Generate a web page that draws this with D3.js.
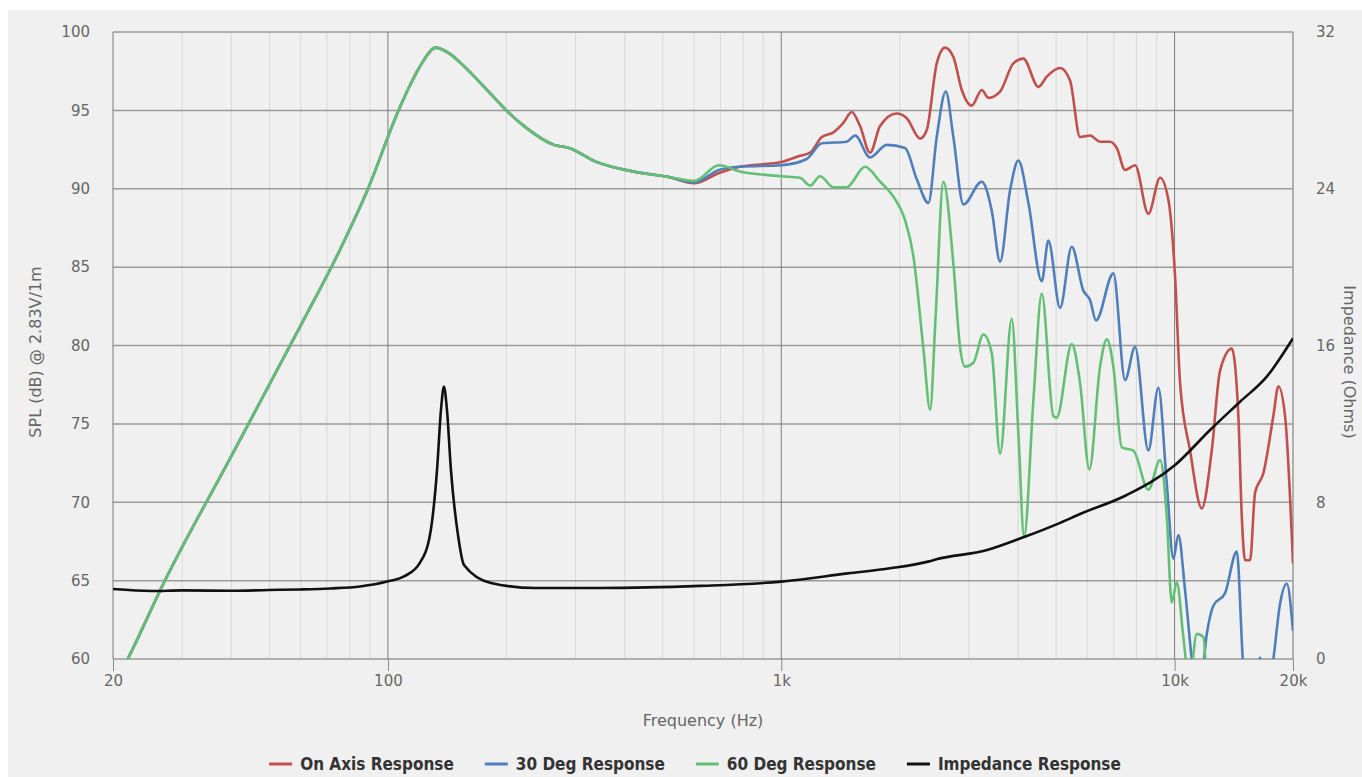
<!DOCTYPE html>
<html>
<head>
<meta charset="utf-8">
<script src="https://cdn.jsdelivr.net/npm/d3@7"></script>
<style>
  body { margin: 0; background: #ffffff; }
  text { font-family: "DejaVu Sans", "Open Sans", sans-serif; }
  .legend-label { font-family: "DejaVu Sans Condensed", "DejaVu Sans", sans-serif; font-stretch: condensed; }
</style>
</head>
<body>
<div id="chart"></div>
<script>
//**Speaker frequency + impedance response */

// low end shared by all three SPL curves (Hz / dB)
var baseFreq = [20, 21.8, 27.1, 39.7, 59.8, 75.5, 89, 106, 113.8, 120.6, 132.5, 143.8, 153.4, 181.8, 200, 224.4, 264.4, 288.6, 340, 420, 518];
var baseSpl = [58.2, 60, 65, 72.8, 81.2, 86.1, 90, 94.9, 96.6, 97.8, 99.0, 98.6, 98.0, 96.1, 95.0, 93.9, 92.8, 92.6, 91.7, 91.1, 90.75];

// on axis
var onAxisFreq = [600, 694.6, 785, 1000, 1116, 1184, 1268, 1357, 1438, 1511, 1586, 1682, 1783, 1966, 2085, 2254, 2344, 2485, 2609, 2739, 2877, 3050, 3234, 3362, 3600, 3891, 4126, 4505, 4732, 5115, 5422, 5750, 6096, 6464, 6854, 7128, 7483, 7934, 8577, 9185, 9642, 10028, 10326, 10948, 11725, 12430, 13050, 13975, 14526, 14818, 15107, 15555, 16016, 16814, 17829, 18357, 19092, 20000];
var onAxisSpl = [90.35, 91.0, 91.4, 91.7, 92.1, 92.3, 93.3, 93.6, 94.2, 94.9, 94.0, 92.3, 94.0, 94.8, 94.5, 93.2, 93.75, 98.0, 99.0, 98.4, 96.3, 95.3, 96.3, 95.8, 96.2, 98.0, 98.3, 96.5, 97.15, 97.7, 96.9, 93.3, 93.4, 93.0, 93.0, 92.6, 91.2, 91.5, 88.4, 90.7, 89.3, 84.4, 77.6, 73.3, 69.6, 73.3, 78.4, 79.8, 75.5, 69.1, 66.3, 66.3, 70.6, 71.85, 75.5, 77.4, 75.5, 66.1];

// 30 deg
var deg30Freq = [600, 694.6, 785, 1000, 1161, 1268, 1467, 1540, 1682, 1854, 2064, 2211, 2366, 2485, 2620, 2739, 2904, 3234, 3429, 3600, 3817, 4007, 4249, 4595, 4776, 5115, 5477, 5862, 6096, 6314, 6988, 7483, 7934, 8577, 9094, 9552, 9930, 10223, 10632, 11057, 11500, 12074, 12547, 13437, 14390, 14905, 15555, 16000, 16490, 17000, 17829, 18535, 19283, 20000];
var deg30Spl = [90.4, 91.2, 91.4, 91.5, 91.9, 92.9, 93.0, 93.4, 92.0, 92.8, 92.6, 90.6, 89.1, 93.3, 96.2, 93.3, 89.0, 90.45, 88.6, 85.35, 89.9, 91.8, 89.1, 84.1, 86.7, 82.4, 86.3, 83.5, 82.9, 81.6, 84.6, 77.8, 79.9, 73.3, 77.3, 71.2, 66.4, 67.9, 64.4, 60.0, 57, 61.6, 63.4, 64.2, 66.85, 60, 55, 57, 60.1, 57, 60, 63.5, 64.8, 61.8];

// 60 deg
var deg60Freq = [600, 694.6, 785, 1000, 1116, 1184, 1255, 1357, 1467, 1633, 1783, 1928, 2064, 2167, 2298, 2390, 2470, 2583, 2739, 2848, 2933, 3079, 3265, 3429, 3600, 3855, 4007, 4143, 4375, 4595, 4918, 5017, 5477, 5750, 6071, 6464, 6723, 6988, 7340, 7856, 8577, 9185, 9552, 9837, 10127, 10527, 10900, 11386, 11835, 12200, 12700];
var deg60Spl = [90.5, 91.5, 91.1, 90.8, 90.7, 90.2, 90.8, 90.1, 90.1, 91.4, 90.45, 89.5, 88.0, 85.7, 79.8, 75.9, 82, 90.45, 85.2, 79.9, 78.65, 78.9, 80.7, 79.5, 73.1, 81.7, 74.4, 67.8, 76.5, 83.3, 75.5, 75.4, 80.1, 77.6, 72.1, 78.65, 80.4, 78.65, 73.5, 73.3, 70.8, 72.7, 69.1, 63.6, 64.9, 61.4, 58.5, 61.6, 61.4, 56, 50];

// impedance (ohms)
var impFreq = [20, 25.1, 30, 40, 49.6, 60, 71.3, 85, 99.5, 110.5, 120.3, 127.9, 133.3, 136.4, 138.8, 141.3, 144.6, 150.7, 156.1, 182.8, 237.5, 346, 621.5, 1000, 1476, 1891, 2362, 2481, 3336, 4126, 5115, 5750, 7557, 10028, 12308, 14671, 17153, 20000];
var impOhm = [3.57, 3.47, 3.5, 3.48, 3.52, 3.55, 3.6, 3.7, 3.95, 4.24, 4.88, 6.33, 9.65, 12.7, 13.9, 12.7, 9.65, 6.33, 4.8, 3.88, 3.62, 3.62, 3.73, 3.95, 4.37, 4.63, 4.97, 5.09, 5.56, 6.21, 6.95, 7.4, 8.37, 9.9, 11.69, 13.13, 14.41, 16.37];

// tick labels
var freqTicks = [20, 100, 1000, 10000, 20000];
var freqLabels = ["20", "100", "1k", "10k", "20k"];
var splTicks = [60, 65, 70, 75, 80, 85, 90, 95, 100];
var ohmTicks = [0, 8, 16, 24, 32];

var seriesNames = ["On Axis Response", "30 Deg Response", "60 Deg Response", "Impedance Response"];
var seriesColors = ["#c0504d", "#4f7fbb", "#62c074", "#111111"];

var svgWidth = 1362;
var svgHeight = 777;

var margin = {
    top: 32,
    bottom: 118,
    right: 69,
    left: 113,
};

var width = svgWidth - margin.left - margin.right;
var height = svgHeight - margin.top - margin.bottom;

var svg = d3
    .select("#chart")
    .append("svg")
    .attr("width", svgWidth)
    .attr("height", svgHeight);

// grey panel
svg.append("rect")
    .attr("x", 8)
    .attr("y", 10)
    .attr("width", svgWidth - 8)
    .attr("height", svgHeight - 10)
    .attr("fill", "#f0f0f0");

var chartGroup = svg
    .append("g")
    .attr("transform", `translate(${margin.left}, ${margin.top})`);

//create scale functions
var xScale = d3.scaleLog().domain([20, 20000]).range([0, width]);
var yScale = d3.scaleLinear().domain([60, 100]).range([height, 0]);
var zScale = d3.scaleLinear().domain([0, 32]).range([height, 0]);

// minor vertical grid
var minorTicks = xScale.ticks().filter((d) => freqTicks.indexOf(d) < 0);
chartGroup.append("g")
    .selectAll("line")
    .data(minorTicks)
    .join("line")
    .attr("x1", (d) => xScale(d))
    .attr("x2", (d) => xScale(d))
    .attr("y1", 0)
    .attr("y2", height)
    .attr("stroke", "#dcdcdc")
    .attr("stroke-width", 1.2);

// horizontal grid
chartGroup.append("g")
    .selectAll("line")
    .data(splTicks)
    .join("line")
    .attr("x1", 0)
    .attr("x2", width)
    .attr("y1", (d) => yScale(d))
    .attr("y2", (d) => yScale(d))
    .attr("stroke", "#9a9a9a")
    .attr("stroke-width", 1.5);

// major vertical grid
chartGroup.append("g")
    .selectAll("line")
    .data(freqTicks)
    .join("line")
    .attr("x1", (d) => xScale(d))
    .attr("x2", (d) => xScale(d))
    .attr("y1", 0)
    .attr("y2", height)
    .attr("stroke", (d) => (d == 20000 ? "#9a9a9a" : "#7c7c7c"))
    .attr("stroke-width", (d) => (d == 20000 ? 1.5 : 1));

//create axis functions
var xAxis = d3.axisBottom(xScale)
    .tickValues(freqTicks)
    .tickFormat((d, i) => freqLabels[i])
    .tickSize(12)
    .tickPadding(4);
var yAxis = d3.axisLeft(yScale).tickValues(splTicks).tickSize(0).tickPadding(23);
var zAxis = d3.axisRight(zScale).tickValues(ohmTicks).tickSize(0).tickPadding(23);

var xAxisG = chartGroup.append("g")
    .attr("transform", `translate(0, ${height})`)
    .call(xAxis);
var yAxisG = chartGroup.append("g").call(yAxis);
var zAxisG = chartGroup.append("g")
    .attr("transform", `translate(${width}, 0)`)
    .call(zAxis);

[xAxisG, yAxisG, zAxisG].forEach(function(g) {
    g.select(".domain").remove();
    g.selectAll(".tick line").attr("stroke", "#8a8a8a");
    g.selectAll(".tick text")
        .attr("fill", "#666")
        .style("font-family", "\"DejaVu Sans\", sans-serif")
        .style("font-size", "15px");
});

// clip for the curves
svg.append("defs")
    .append("clipPath")
    .attr("id", "plot-clip")
    .append("rect")
    .attr("width", width)
    .attr("height", height);

var splLine = d3.line()
    .x((d) => xScale(d[0]))
    .y((d) => yScale(d[1]))
    .curve(d3.curveMonotoneX);
var ohmLine = d3.line()
    .x((d) => xScale(d[0]))
    .y((d) => zScale(d[1]))
    .curve(d3.curveMonotoneX);

var curves = [
    d3.zip(baseFreq.concat(onAxisFreq), baseSpl.concat(onAxisSpl)),
    d3.zip(baseFreq.concat(deg30Freq), baseSpl.concat(deg30Spl)),
    d3.zip(baseFreq.concat(deg60Freq), baseSpl.concat(deg60Spl)),
];

var linesGroup = chartGroup.append("g").attr("clip-path", "url(#plot-clip)");

linesGroup.selectAll("path.spl")
    .data(curves)
    .join("path")
    .classed("spl", true)
    .attr("d", (d) => splLine(d))
    .attr("fill", "none")
    .attr("stroke", (d, i) => seriesColors[i])
    .attr("stroke-width", 2.6)
    .attr("stroke-linejoin", "round");

linesGroup.append("path")
    .attr("d", ohmLine(d3.zip(impFreq, impOhm)))
    .attr("fill", "none")
    .attr("stroke", seriesColors[3])
    .attr("stroke-width", 2.6)
    .attr("stroke-linejoin", "round");

//create axes labels
svg.append("text")
    .attr("x", margin.left + width / 2)
    .attr("y", 720)
    .attr("dy", "0.35em")
    .attr("text-anchor", "middle")
    .attr("fill", "#666")
    .style("font-size", "16px")
    .text("Frequency (Hz)");

svg.append("text")
    .attr("transform", "translate(35, 352) rotate(-90)")
    .attr("dy", "0.35em")
    .attr("text-anchor", "middle")
    .attr("fill", "#666")
    .style("font-size", "16px")
    .text("SPL (dB) @ 2.83V/1m");

svg.append("text")
    .attr("transform", "translate(1350, 362) rotate(90)")
    .attr("dy", "0.35em")
    .attr("text-anchor", "middle")
    .attr("fill", "#666")
    .style("font-size", "16px")
    .text("Impedance (Ohms)");

// legend
var legend = svg.append("g");
var items = legend.selectAll("g")
    .data(seriesNames)
    .join("g");
items.append("line")
    .attr("x1", 0)
    .attr("x2", 23)
    .attr("y1", 0)
    .attr("y2", 0)
    .attr("stroke", (d, i) => seriesColors[i])
    .attr("stroke-width", 3);
items.append("text")
    .classed("legend-label", true)
    .attr("x", 31)
    .attr("dy", "0.36em")
    .attr("fill", "#333")
    .style("font-size", "17px")
    .style("font-weight", "bold")
    .text((d) => d);

var pos = 0;
items.each(function() {
    var w = d3.select(this).select("text").node().getComputedTextLength();
    d3.select(this).attr("transform", `translate(${pos}, 0)`);
    pos += 31 + w + 31;
});
var legendWidth = pos - 31;
legend.attr("transform", `translate(${695 - legendWidth / 2}, 764)`);
</script>
</body>
</html>
